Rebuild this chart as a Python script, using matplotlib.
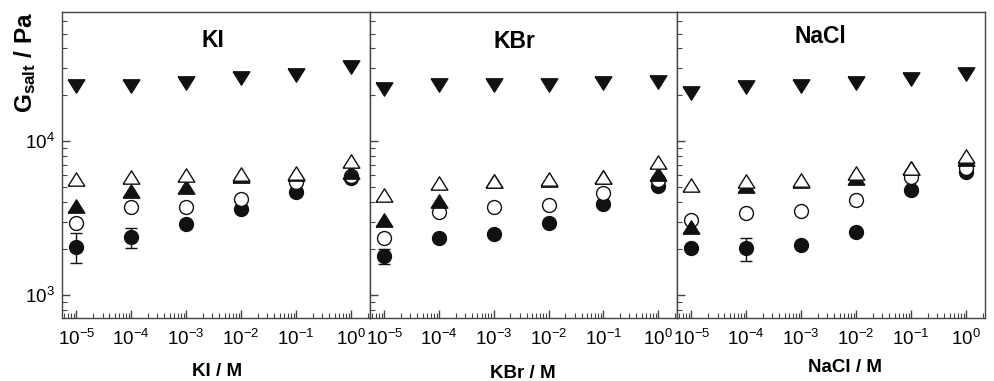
import numpy as np
import matplotlib
matplotlib.use("Agg")
import matplotlib.pyplot as plt
from matplotlib.ticker import LogLocator, NullFormatter

plt.rcParams['font.family'] = ['Liberation Sans', 'DejaVu Sans']
plt.rcParams['mathtext.fontset'] = 'custom'
plt.rcParams['mathtext.rm'] = 'Liberation Sans'
plt.rcParams['mathtext.it'] = 'Liberation Sans:italic'
plt.rcParams['mathtext.bf'] = 'Liberation Sans:bold'

# ---------------- data ----------------
conc = [1e-5, 1e-4, 1e-3, 1e-2, 1e-1, 1e0]
salts = ["KI", "KBr", "NaCl"]
xlabels = ["KI / M", "KBr / M", "NaCl / M"]

ki_down_filled = [22800, 22900, 23700, 25800, 26800, 30100]
ki_up_open = [5640, 5810, 6010, 6110, 6170, 7400]
ki_up_filled = [3790, 4760, 5020, 5930, 6080, 6300]
ki_circle_open = [2950, 3740, 3710, 4200, 5450, 5950]
ki_circle_filled = [2060, 2370, 2890, 3600, 4640, 5750]
ki_circle_filled_err = [455, 355, 0, 0, 0, 0]

kbr_down_filled = [21800, 23300, 23300, 23300, 23700, 24300]
kbr_up_open = [4460, 5310, 5520, 5640, 5860, 7350]
kbr_up_filled = [3070, 4090, 5470, 5580, 5810, 6150]
kbr_circle_open = [2340, 3470, 3740, 3840, 4620, 5600]
kbr_circle_filled = [1800, 2340, 2490, 2950, 3900, 5100]
kbr_circle_filled_err = [200, 0, 0, 0, 0, 0]

nacl_down_filled = [20400, 22500, 22800, 24000, 25500, 27200]
nacl_up_open = [5200, 5520, 5560, 6170, 6740, 7950]
nacl_up_filled = [2780, 5100, 5520, 5780, 6680, 7700]
nacl_circle_open = [3070, 3390, 3510, 4140, 5810, 6700]
nacl_circle_filled = [2010, 2010, 2110, 2580, 4810, 6350]
nacl_circle_filled_err = [0, 355, 0, 0, 0, 0]

panels = [
    (ki_down_filled, ki_up_open, ki_up_filled, ki_circle_open, ki_circle_filled, ki_circle_filled_err),
    (kbr_down_filled, kbr_up_open, kbr_up_filled, kbr_circle_open, kbr_circle_filled, kbr_circle_filled_err),
    (nacl_down_filled, nacl_up_open, nacl_up_filled, nacl_circle_open, nacl_circle_filled, nacl_circle_filled_err),
]

# ---------------- style ----------------
UP = [(-1, -0.8), (1, -0.8), (0, 0.8), (-1, -0.8)]
DOWN = [(-1, 0.8), (1, 0.8), (0, -0.8), (-1, 0.8)]
BLACK = '#111111'
SPINE = '#444444'

fig = plt.figure(figsize=(9.95, 3.81), dpi=100)
lefts = [62, 370, 677]
rights = [370, 677, 985]
bottom_px, top_px = 318, 12
W, H = 995.0, 381.0

title_pos = [(0.49, 0.906), (0.472, 0.903), (0.464, 0.92)]
xlabel_pos = [(217, 372), (523, 374), (845, 368)]

for i, (down, upo, upf, co, cf, cerr) in enumerate(panels):
    ax = fig.add_axes([lefts[i] / W, 1 - bottom_px / H,
                       (rights[i] - lefts[i]) / W, (bottom_px - top_px) / H])
    ax.set_xscale('log')
    ax.set_yscale('log')
    ax.set_xlim(10 ** -5.26, 10 ** 0.345)
    ax.set_ylim(710, 69000)

    ax.errorbar(conc, cf, yerr=cerr, fmt='none', ecolor=BLACK, elinewidth=1.0,
                capsize=4, capthick=1.0, zorder=2)
    ax.plot(conc, cf, linestyle='none', marker='o', ms=10, mfc=BLACK, mec=BLACK,
            mew=1.0, zorder=3)
    ax.plot(conc, co, linestyle='none', marker='o', ms=10, mfc='white', mec=BLACK,
            mew=1.0, zorder=4)
    ax.plot(conc, upf, linestyle='none', marker=UP, ms=12, mfc=BLACK, mec=BLACK,
            mew=1.0, zorder=5)
    ax.plot(conc, upo, linestyle='none', marker=UP, ms=12, mfc='white', mec=BLACK,
            mew=1.0, zorder=6)
    ax.plot(conc, down, linestyle='none', marker=DOWN, ms=12, mfc=BLACK, mec=BLACK,
            mew=1.0, zorder=6)

    for s in ax.spines.values():
        s.set_color(SPINE)
        s.set_linewidth(1.0)

    ax.xaxis.set_major_locator(LogLocator(base=10, numticks=20))
    ax.xaxis.set_minor_locator(LogLocator(base=10, subs=np.arange(2, 10), numticks=20))
    ax.xaxis.set_minor_formatter(NullFormatter())
    ax.yaxis.set_major_locator(LogLocator(base=10, numticks=20))
    ax.yaxis.set_minor_locator(LogLocator(base=10, subs=np.arange(2, 10), numticks=20))
    ax.yaxis.set_minor_formatter(NullFormatter())

    ax.tick_params(axis='both', which='both', direction='in', color=SPINE,
                   top=False, right=False, labelsize=13.5)
    ax.tick_params(axis='both', which='major', length=6, width=1.0)
    ax.tick_params(axis='both', which='minor', length=3.5, width=0.8)
    ax.tick_params(axis='x', which='major', pad=8)
    ax.tick_params(axis='y', which='major', pad=5)
    if i > 0:
        ax.tick_params(axis='y', which='both', labelleft=False)

    ax.text(title_pos[i][0], title_pos[i][1], salts[i], transform=ax.transAxes,
            ha='center', va='center', fontsize=16.5, fontweight='bold')
    fig.text(xlabel_pos[i][0] / W, 1 - xlabel_pos[i][1] / H, xlabels[i],
             ha='center', va='center', fontsize=13.5, fontweight='bold')

fig.text(25 / W, 1 - 62 / H, r'$\mathbf{G}_{\mathbf{salt}}$ / Pa', rotation=90,
         ha='center', va='center', fontsize=17.5, fontweight='bold')

fig.savefig('out.png', dpi=100)
